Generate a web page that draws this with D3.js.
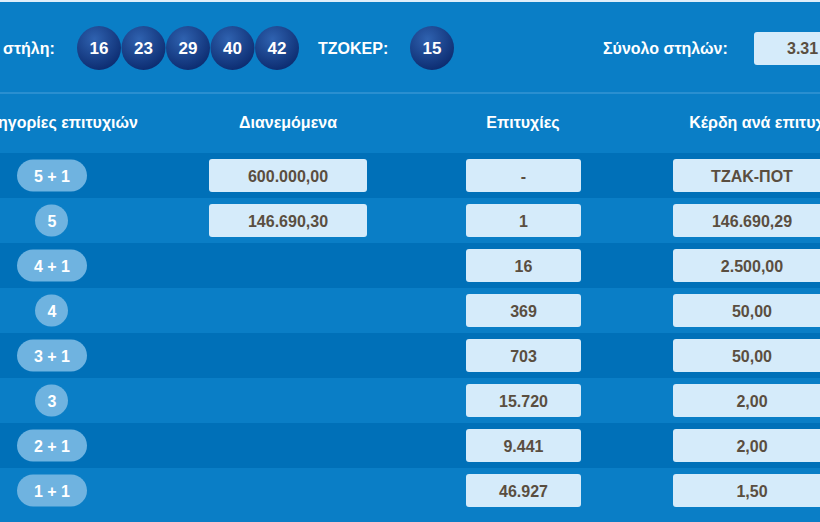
<!DOCTYPE html>
<html><head><meta charset="utf-8">
<script src="https://cdn.jsdelivr.net/npm/d3@7"></script>
<style>body{margin:0;background:#0a7ec6;overflow:hidden}</style>
</head><body><svg id="c" width="820" height="522"></svg>
<script>
const balls = ['16', '23', '29', '40', '42'];
const joker = '15';
const totalCols = '3.31';
const categories = ['5 + 1', '5', '4 + 1', '4', '3 + 1', '3', '2 + 1', '1 + 1'];
const distributed = ['600.000,00', '146.690,30', null, null, null, null, null, null];
const hits = ['-', '1', '16', '369', '703', '15.720', '9.441', '46.927'];
const winnings = ['ΤΖΑΚ-ΠΟΤ', '146.690,29', '2.500,00', '50,00', '50,00', '2,00', '2,00', '1,50'];
const headers = ['ηγορίες επιτυχιών', 'Διανεμόμενα', 'Επιτυχίες', 'Κέρδη ανά επιτυχ'];

const svg = d3.select('#c');
const font = '"Liberation Sans Narrow", "Liberation Sans", Arial, sans-serif';

const defs = svg.append('defs');
const g = defs.append('radialGradient').attr('id', 'ball').attr('cx', '40%').attr('cy', '30%').attr('r', '75%');
g.append('stop').attr('offset', '0%').attr('stop-color', '#2f62b0');
g.append('stop').attr('offset', '100%').attr('stop-color', '#0b2a6e');

svg.append('rect').attr('width', 820).attr('height', 522).attr('fill', '#0a7ec6');
svg.append('line').attr('x1', 0).attr('x2', 820).attr('y1', 1).attr('y2', 1).attr('stroke', '#dfeefa').attr('stroke-width', 2);
svg.append('line').attr('x1', 0).attr('x2', 820).attr('y1', 93).attr('y2', 93).attr('stroke', '#2a8fd0').attr('stroke-width', 2);

// top band
const bx = d3.scalePoint().domain(d3.range(balls.length)).range([99, 277]);
svg.append('text').attr('x', 3).attr('y', 54).text('στήλη:')
  .attr('fill', '#fff').style('font', `bold 16px ${font}`);
const ballG = svg.selectAll('.ball').data(balls).enter().append('g')
  .attr('transform', (d, i) => `translate(${bx(i)},48)`);
ballG.append('circle').attr('r', 22).attr('fill', 'url(#ball)');
ballG.append('text').text(d => d).attr('text-anchor', 'middle').attr('dy', 6)
  .attr('fill', '#fff').style('font', `bold 17px ${font}`);
svg.append('text').attr('x', 318).attr('y', 54).text('ΤΖΟΚΕΡ:')
  .attr('fill', '#fff').style('font', `bold 16px ${font}`);
const jg = svg.append('g').attr('transform', 'translate(432,48)');
jg.append('circle').attr('r', 22).attr('fill', 'url(#ball)');
jg.append('text').text(joker).attr('text-anchor', 'middle').attr('dy', 6)
  .attr('fill', '#fff').style('font', `bold 17px ${font}`);
svg.append('text').attr('x', 603).attr('y', 54).text('Σύνολο στηλών:')
  .attr('fill', '#fff').style('font', `bold 16px ${font}`);
svg.append('rect').attr('x', 754).attr('y', 32).attr('width', 80).attr('height', 33).attr('rx', 3).attr('fill', '#d5ebfa');
svg.append('text').attr('x', 787).attr('y', 54).text(totalCols)
  .attr('fill', '#5a4e40').style('font', `bold 16px ${font}`);

// header
const colX = [68, 288, 523, 757];
svg.selectAll('.hdr').data(headers).enter().append('text')
  .attr('x', (d, i) => colX[i]).attr('y', 128).attr('text-anchor', 'middle')
  .attr('fill', '#fff').style('font', `bold 16px ${font}`).text(d => d);

// rows
const y = d3.scaleBand().domain(d3.range(categories.length)).range([153, 513]);
svg.append('rect').attr('x', 0).attr('y', 513).attr('width', 820).attr('height', 9).attr('fill', '#0a7ec6');
const rows = svg.selectAll('.row').data(categories).enter().append('g')
  .attr('transform', (d, i) => `translate(0,${y(i)})`);
rows.append('rect').attr('width', 820).attr('height', y.bandwidth())
  .attr('fill', (d, i) => i % 2 === 0 ? '#0070b8' : '#0a7ec6');
const mid = y.bandwidth() / 2;
rows.append('rect')
  .attr('x', d => d.length > 1 ? 17 : 35).attr('width', d => d.length > 1 ? 70 : 33)
  .attr('y', mid - 16).attr('height', 32).attr('rx', 16).attr('fill', '#6fb3e0');
rows.append('text').attr('x', 52).attr('y', mid + 6).attr('text-anchor', 'middle')
  .attr('fill', '#fff').style('font', `bold 16px ${font}`).text(d => d);

function box(arr, x0, w) {
  const sel = rows.filter((d, i) => arr[i] != null);
  sel.append('rect').attr('x', x0).attr('width', w).attr('y', mid - 16.5).attr('height', 33)
    .attr('rx', 3).attr('fill', '#d5ebfa');
  sel.append('text').attr('x', x0 + w / 2).attr('y', mid + 6).attr('text-anchor', 'middle')
    .attr('fill', '#5a4e40').style('font', `bold 16px ${font}`)
    .text(function () { return arr[categories.indexOf(d3.select(this.parentNode).datum())]; });
}
box(distributed, 209, 158);
box(hits, 466, 115);
box(winnings, 673, 158);
</script></body></html>
